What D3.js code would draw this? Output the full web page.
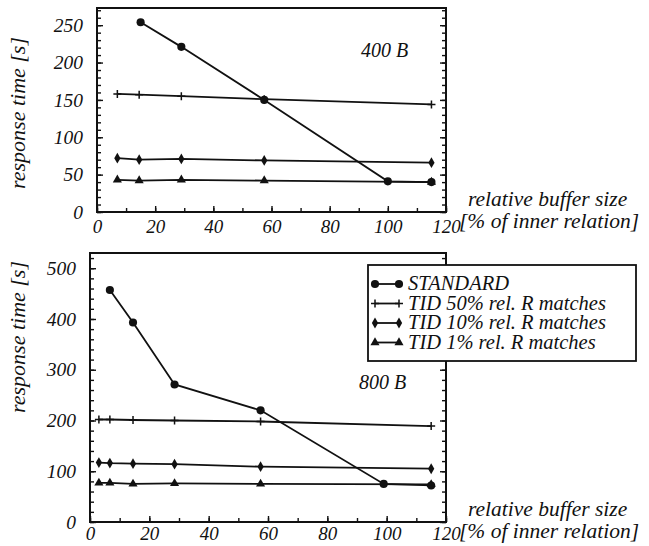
<!DOCTYPE html>
<html>
<head>
<meta charset="utf-8">
<script src="https://cdn.jsdelivr.net/npm/d3@7"></script>
<style>
  body { margin: 0; background: #fff; }
  #chart text { font-family: "Liberation Serif" !important; font-style: italic; }
</style>
</head>
<body>
<svg id="chart" width="649" height="546"></svg>
<script>
// series names
const seriesNames = ["STANDARD", "TID 50% rel. R matches", "TID 10% rel. R matches", "TID 1% rel. R matches"];

// 400 B panel
const x400Standard = [15, 29, 57.5, 100, 115];
const y400Standard = [254, 221, 150, 41, 40];
const x400Tid = [7, 14.5, 29, 57.5, 115];
const y400Tid50 = [158, 157, 155, 151, 144];
const y400Tid10 = [72, 70, 71, 69, 66];
const y400Tid1 = [43, 42, 43, 42, 40];

// 800 B panel
const x800Standard = [6.7, 14.5, 28.5, 57.5, 99, 115];
const y800Standard = [457, 393, 271, 220, 75, 72];
const x800Tid = [3, 6.7, 14.5, 28.5, 57.5, 115];
const y800Tid50 = [202, 202, 201, 200, 198, 189];
const y800Tid10 = [117, 116, 115, 114, 109, 105];
const y800Tid1 = [77, 77, 75, 76, 75, 74];

const xTicks = [0, 20, 40, 60, 80, 100, 120];
const y400Ticks = [0, 50, 100, 150, 200, 250];
const y800Ticks = [0, 100, 200, 300, 400, 500];

const svg = d3.select("#chart");

// marker shapes
const plusSymbol = {
  draw(ctx, size) {
    const r = Math.sqrt(size) / 2;
    ctx.moveTo(-r, 0); ctx.lineTo(r, 0);
    ctx.moveTo(0, -r); ctx.lineTo(0, r);
  }
};
const markerStyles = [
  {type: d3.symbolCircle, size: 52, fill: "#111", stroke: "none"},
  {type: plusSymbol, size: 64, fill: "none", stroke: "#111"},
  {type: d3.symbolDiamond, size: 34, fill: "#111", stroke: "none"},
  {type: d3.symbolTriangle, size: 36, fill: "#111", stroke: "none"}
];

function zip(xs, ys) { return xs.map((x, i) => ({x: x, y: ys[i]})); }

function txt(sel, size) {
  return sel.style("font-family", "Liberation Serif").style("font-style", "italic")
    .style("font-size", size + "px").attr("fill", "#111");
}

const panels = [
  {
    left: 97, right: 446, top: 8, bottom: 212, xPad: 8,
    yMax: 273, yTicks: y400Ticks, yMinor: 10, label: "400 B", labelPos: [361, 57],
    series: [zip(x400Standard, y400Standard), zip(x400Tid, y400Tid50), zip(x400Tid, y400Tid10), zip(x400Tid, y400Tid1)],
    yTitleY: 113
  },
  {
    left: 90, right: 446, top: 253, bottom: 522, xPad: 5,
    yMax: 530, yTicks: y800Ticks, yMinor: 20, label: "800 B", labelPos: [359, 389],
    series: [zip(x800Standard, y800Standard), zip(x800Tid, y800Tid50), zip(x800Tid, y800Tid10), zip(x800Tid, y800Tid1)],
    yTitleY: 337
  }
];

panels.forEach(p => {
  const x = d3.scaleLinear().domain([0, 120]).range([p.left, p.right]);
  const y = d3.scaleLinear().domain([0, p.yMax]).range([p.bottom, p.top]);
  const g = svg.append("g");

  const xMinor = d3.range(0, 121, 10);
  const yMinor = d3.range(0, p.yMax, p.yMinor);

  // ticks all point inward
  const addAxis = (axis, tf) => g.append("g").attr("transform", tf).call(axis)
    .attr("font-family", null)
    .call(s => s.select(".domain").remove())
    .call(s => s.selectAll("line").attr("stroke", "#111").attr("stroke-width", 1.4));

  addAxis(d3.axisBottom(x).tickValues(xMinor).tickSize(-4).tickFormat(""), `translate(0,${p.bottom})`);
  addAxis(d3.axisLeft(y).tickValues(yMinor).tickSize(-4).tickFormat(""), `translate(${p.left},0)`);
  addAxis(d3.axisRight(y).tickValues(yMinor).tickSize(-4).tickFormat(""), `translate(${p.right},0)`);
  addAxis(d3.axisRight(y).tickValues(p.yTicks).tickSize(-6).tickFormat(""), `translate(${p.right},0)`);

  // major ticks with labels
  const xa = addAxis(d3.axisBottom(x).tickValues(xTicks).tickSize(-6).tickPadding(p.xPad), `translate(0,${p.bottom})`);
  txt(xa.selectAll("text"), 19);
  const ya = addAxis(d3.axisLeft(y).tickValues(p.yTicks).tickSize(-6).tickPadding(14), `translate(${p.left},0)`);
  txt(ya.selectAll("text"), 19.5);

  // frame
  g.append("rect")
    .attr("x", p.left).attr("y", p.top)
    .attr("width", p.right - p.left).attr("height", p.bottom - p.top)
    .attr("fill", "none").attr("stroke", "#111").attr("stroke-width", 2);

  // series lines + markers
  const line = d3.line().x(d => x(d.x)).y(d => y(d.y));
  p.series.forEach((data, i) => {
    g.append("path").datum(data).attr("d", line)
      .attr("fill", "none").attr("stroke", "#111").attr("stroke-width", 1.8);
    const m = markerStyles[i];
    g.selectAll(null).data(data).join("path")
      .attr("transform", d => `translate(${x(d.x)},${y(d.y)})`)
      .attr("d", d3.symbol(m.type, m.size))
      .attr("fill", m.fill).attr("stroke", m.stroke).attr("stroke-width", 1.5);
  });

  txt(g.append("text"), 20).attr("x", p.labelPos[0]).attr("y", p.labelPos[1]).text(p.label);

  txt(g.append("text"), 22)
    .attr("transform", `translate(25,${p.yTitleY}) rotate(-90)`)
    .attr("text-anchor", "middle")
    .text("response time [s]");

  txt(g.append("text"), 21.5).attr("x", 468).attr("y", p.bottom - 6).text("relative buffer size");
  txt(g.append("text"), 21.5).attr("x", 459).attr("y", p.bottom + 16).text("[% of inner relation]");
});

// legend
const legend = svg.append("g");
legend.append("rect").attr("x", 368).attr("y", 265).attr("width", 268).attr("height", 96)
  .attr("fill", "#fff").attr("stroke", "#111").attr("stroke-width", 1.8);
seriesNames.forEach((name, i) => {
  const cy = 284 + i * 19.5;
  const m = markerStyles[i];
  legend.append("line").attr("x1", 375).attr("x2", 399).attr("y1", cy).attr("y2", cy)
    .attr("stroke", "#111").attr("stroke-width", 1.8);
  [375, 399].forEach(mx => {
    legend.append("path").attr("transform", `translate(${mx},${cy})`)
      .attr("d", d3.symbol(m.type, m.size))
      .attr("fill", m.fill).attr("stroke", m.stroke).attr("stroke-width", 1.5);
  });
  txt(legend.append("text"), 20.5).attr("x", 408).attr("y", cy + 6).text(name);
});
</script>
</body>
</html>
